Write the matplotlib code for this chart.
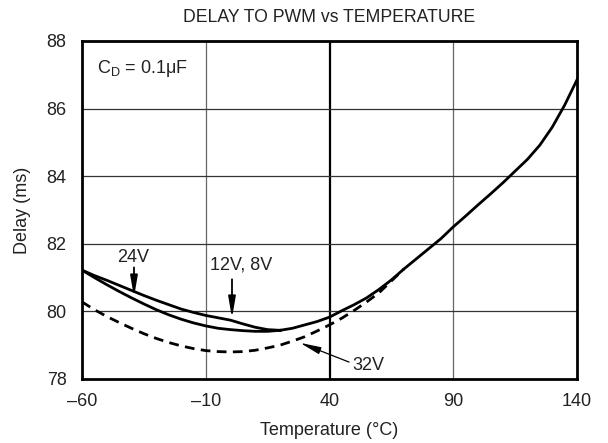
import matplotlib
matplotlib.use("Agg")
import matplotlib.pyplot as plt

plt.rcParams['font.family'] = ['Liberation Sans', 'DejaVu Sans']
plt.rcParams['mathtext.fontset'] = 'custom'
plt.rcParams['mathtext.rm'] = 'Liberation Sans'
plt.rcParams['mathtext.it'] = 'Liberation Sans'

# Data
t_left = [-60, -55, -50, -45, -40, -35, -30, -25, -20, -15, -10, -5, 0, 5, 10, 15, 20]
delay_12v_8v = [81.22, 81.06, 80.92, 80.77, 80.62, 80.47, 80.33, 80.2, 80.07,
                79.97, 79.88, 79.81, 79.74, 79.63, 79.53, 79.46, 79.44]
delay_24v = [81.22, 81.0, 80.79, 80.59, 80.4, 80.22, 80.05, 79.9, 79.77,
             79.66, 79.57, 79.5, 79.46, 79.43, 79.41, 79.41, 79.44]

t_common = [20, 25, 30, 35, 40, 45, 50, 55, 60, 65, 70, 75, 80, 85, 90, 95,
            100, 105, 110, 115, 120, 125, 130, 135, 140]
delay_common = [79.44, 79.5, 79.6, 79.7, 79.83, 80.02, 80.2, 80.4, 80.65, 80.93,
                81.25, 81.55, 81.85, 82.15, 82.5, 82.82, 83.15, 83.47, 83.8,
                84.15, 84.5, 84.92, 85.45, 86.1, 86.85]

t_32v = [-60, -55, -50, -45, -40, -35, -30, -25, -20, -15, -10, -5, 0, 5, 10,
         15, 20, 25, 30, 35, 40, 45, 50, 55, 60, 65, 70]
delay_32v = [80.28, 80.05, 79.85, 79.67, 79.5, 79.34, 79.2, 79.08, 78.98, 78.9,
             78.84, 78.81, 78.8, 78.81, 78.85, 78.92, 79.0, 79.12, 79.25, 79.42,
             79.6, 79.8, 80.03, 80.28, 80.55, 80.9, 81.25]

x_ticks = [-60, -10, 40, 90, 140]
x_labels = ['\u201360', '\u201310', '40', '90', '140']
y_ticks = [78, 80, 82, 84, 86, 88]

fs = 13
tc = '#222222'

fig = plt.figure(figsize=(6.08, 4.43), dpi=100)
ax = fig.add_axes([0.1349, 0.1445, 0.8141, 0.763])

# grid
for x in [-10, 90]:
    ax.axvline(x, color='#666666', lw=0.9, zorder=1)
ax.axvline(40, color='black', lw=1.6, zorder=1)
for y in [80, 82, 84, 86]:
    ax.axhline(y, color='#333333', lw=0.9, zorder=1)

lw = 2.0
ax.plot(t_left, delay_12v_8v, color='black', lw=lw, zorder=3)
ax.plot(t_left, delay_24v, color='black', lw=lw, zorder=3)
ax.plot(t_common, delay_common, color='black', lw=lw, zorder=3)
ax.plot(t_32v, delay_32v, color='black', lw=lw, ls=(0, (3.5, 2.3)), zorder=3)

ax.set_xlim(-60, 140)
ax.set_ylim(78, 88)
ax.set_xticks(x_ticks)
ax.set_xticklabels(x_labels)
ax.set_yticks(y_ticks)
ax.tick_params(length=0, labelsize=fs, colors=tc)
ax.tick_params(axis='x', pad=10)
ax.tick_params(axis='y', pad=11)
for s in ax.spines.values():
    s.set_linewidth(2.0)

ax.set_xlabel('Temperature (\u00b0C)', fontsize=fs, labelpad=9, color=tc)
ax.set_ylabel('Delay (ms)', fontsize=fs, labelpad=11, color=tc)
ax.set_title('DELAY TO PWM vs TEMPERATURE', fontsize=12.7, pad=14, color=tc)

ax.text(-54, 87.2, 'C$_\\mathrm{D}$ = 0.1\u03bcF', fontsize=fs, va='center', ha='left', color=tc)

arrow = dict(arrowstyle='-|>,head_length=0.7,head_width=0.12', color='black',
             lw=1.3, mutation_scale=18, shrinkA=0, shrinkB=0)
ax.text(-39.4, 81.6, '24V', fontsize=fs, ha='center', va='center', color=tc)
ax.annotate('', xy=(-39, 80.42), xytext=(-39, 81.3), arrowprops=arrow)

ax.text(4.2, 81.36, '12V, 8V', fontsize=fs, ha='center', va='center', color=tc)
ax.annotate('', xy=(0.6, 79.8), xytext=(0.6, 80.95), arrowprops=arrow)

arrow2 = dict(arrow, lw=0.9)
ax.text(55.6, 78.41, '32V', fontsize=fs, ha='center', va='center', color=tc)
ax.annotate('', xy=(28.1, 79.07), xytext=(47.9, 78.5), arrowprops=arrow2)

fig.savefig('out.png', dpi=100)
